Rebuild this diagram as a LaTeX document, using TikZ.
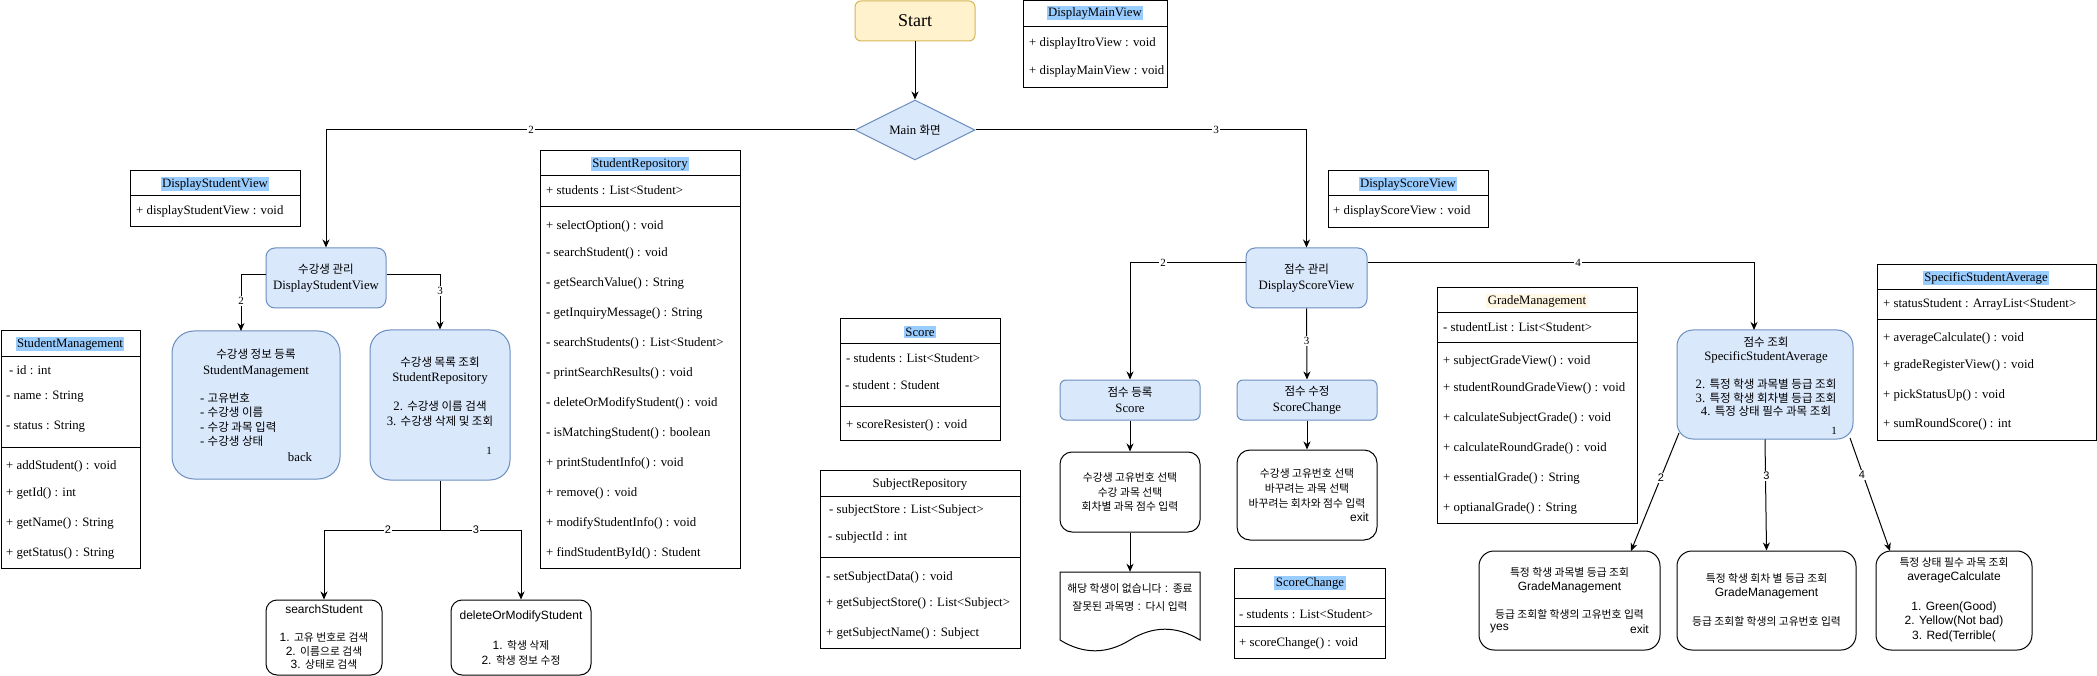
\documentclass[tikz,border=0pt]{standalone}
\usepackage{fontspec}
\setmainfont{Liberation Serif}
\newfontfamily\sansf{Liberation Sans}
\newfontfamily\krf{Noto Sans CJK KR}[Scale=0.9]
\usetikzlibrary{shapes.geometric,arrows.meta}
\definecolor{bluefill}{HTML}{DAE8FC}
\definecolor{bluestroke}{HTML}{6C8EBF}
\definecolor{yfill}{HTML}{FFF2CC}
\definecolor{ystroke}{HTML}{D6B656}
\definecolor{hlblue}{HTML}{99CCFF}
\definecolor{hlyellow}{HTML}{FFF6E3}
\newcommand\K[1]{{\krf #1}}
\newcommand\fsr{\fontsize{12.8}{15}\selectfont}
\begin{document}
\begin{tikzpicture}[x=1pt,y=-1pt,
  edge/.style={line width=1pt,-{Stealth[length=8pt,width=7pt,inset=2.5pt]}},
  plainline/.style={line width=1pt},
  elabel/.style={fill=white,inner sep=1pt,font=\fontsize{11}{12}\selectfont},
  bluebox/.style={draw=bluestroke,fill=bluefill,line width=1pt,inner sep=0pt},
  whitebox/.style={draw=black,fill=white,line width=1pt,inner sep=0pt},
  clsbox/.style={draw=black,line width=1pt,anchor=north west,inner sep=0pt},
  row/.style={anchor=west,inner sep=0pt,font=\fsr},
  hdr/.style={fill=hlblue,inner sep=1.5pt,font=\fsr},
  txt/.style={align=center,inner sep=0pt},
]
\fill[white] (0,0) rectangle (2097,676);
\useasboundingbox (0,0) rectangle (2097,676);

% ---------- class boxes ----------
% DisplayMainView
\node[clsbox,minimum width=144pt,minimum height=87pt] (dmv) at (1023,0.5) {};
\draw[plainline] (dmv.west |- 0,27) -- (dmv.east |- 0,27);
\node[hdr] (dmvh) at (1095,13) {DisplayMainView};
\node[row] (dmv1) at (1029,43) {+ displayItroView : void};
\node[row] (dmv2) at (1029,71) {+ displayMainView : void};

% DisplayStudentView
\node[clsbox,minimum width=170pt,minimum height=56pt] (dsv) at (130,170) {};
\draw[plainline] (dsv.west |- 0,196) -- (dsv.east |- 0,196);
\node[hdr] (dsvh) at (215,184) {DisplayStudentView};
\node[row] (dsv1) at (136,211) {+ displayStudentView : void};

% StudentManagement
\node[clsbox,minimum width=139pt,minimum height=238pt] (smc) at (1,330) {};
\draw[plainline] (smc.west |- 0,357) -- (smc.east |- 0,357);
\draw[plainline] (smc.west |- 0,447) -- (smc.east |- 0,447);
\node[hdr] (smch) at (70,344) {StudentManagement};
\node[row] (smc1) at (9,370) {- id : int};
\foreach \y/\t [count=\i] in {397/{- name : String},427/{- status : String},466/{+ addStudent() : void},493/{+ getId() : int},523/{+ getName() : String},553/{+ getStatus() : String}}
  \node[row] (smcr\i) at (6,\y) {\t};

% StudentRepository
\node[clsbox,minimum width=200pt,minimum height=418pt] (src) at (540,150) {};
\draw[plainline] (src.west |- 0,176) -- (src.east |- 0,176);
\draw[plainline] (src.west |- 0,207) -- (src.east |- 0,207);
\node[hdr] (srch) at (640,164) {StudentRepository};
\node[row] (src0) at (546,190) {+ students : List<Student>};
\foreach \y/\t [count=\i] in {226/{+ selectOption() : void},253/{- searchStudent() : void},283/{- getSearchValue() : String},313/{- getInquiryMessage() : String},343/{- searchStudents() : List<Student>},373/{- printSearchResults() : void},403/{- deleteOrModifyStudent() : void},433/{- isMatchingStudent() : boolean},463/{+ printStudentInfo() : void},493/{+ remove() : void},523/{+ modifyStudentInfo() : void},553/{+ findStudentById() : Student}}
  \node[row] (srcr\i) at (546,\y) {\t};

% Score
\node[clsbox,minimum width=160pt,minimum height=122pt] (scc) at (840,318) {};
\draw[plainline] (scc.west |- 0,344) -- (scc.east |- 0,344);
\draw[plainline] (scc.west |- 0,406) -- (scc.east |- 0,406);
\node[hdr] (scch) at (920,332) {Score};
\node[row] (scc1) at (846,358) {- students : List<Student>};
\node[row] (scc2) at (845,385) {- student : Student};
\node[row] (scc3) at (846,425) {+ scoreResister() : void};

% SubjectRepository
\node[clsbox,minimum width=200pt,minimum height=178pt] (sjr) at (820,470) {};
\draw[plainline] (sjr.west |- 0,496) -- (sjr.east |- 0,496);
\draw[plainline] (sjr.west |- 0,557) -- (sjr.east |- 0,557);
\node[font=\fsr,inner sep=0pt] (sjrh) at (920,484) {SubjectRepository};
\node[row] (sjr1) at (829,510) {- subjectStore : List<Subject>};
\node[row] (sjr2) at (828,537) {- subjectId : int};
\node[row] (sjr3) at (826,577) {- setSubjectData() : void};
\node[row] (sjr4) at (826,603) {+ getSubjectStore() : List<Subject>};
\node[row] (sjr5) at (826,633) {+ getSubjectName() : Subject};

% DisplayScoreView
\node[clsbox,minimum width=160pt,minimum height=57pt] (dscv) at (1328,170) {};
\draw[plainline] (dscv.west |- 0,196) -- (dscv.east |- 0,196);
\node[hdr] (dscvh) at (1408,184) {DisplayScoreView};
\node[row] (dscv1) at (1333,211) {+ displayScoreView : void};

% ScoreChange
\node[clsbox,minimum width=151pt,minimum height=90pt] (scg) at (1234,568) {};
\draw[plainline] (scg.west |- 0,598) -- (scg.east |- 0,598);
\draw[plainline] (scg.west |- 0,626) -- (scg.east |- 0,626);
\node[hdr] (scgh) at (1310,583) {ScoreChange};
\node[row] (scg1) at (1239,614) {- students : List<Student>};
\node[row] (scg2) at (1239,643) {+ scoreChange() : void};

% GradeManagement
\node[clsbox,minimum width=200pt,minimum height=236pt] (grm) at (1437,287) {};
\draw[plainline] (grm.west |- 0,313) -- (grm.east |- 0,313);
\draw[plainline] (grm.west |- 0,343) -- (grm.east |- 0,343);
\node[hdr,fill=hlyellow] (grmh) at (1537,301) {GradeManagement};
\node[row] (grm0) at (1443,327) {- studentList : List<Student>};
\foreach \y/\t [count=\i] in {361/{+ subjectGradeView() : void},388/{+ studentRoundGradeView() : void},418/{+ calculateSubjectGrade() : void},448/{+ calculateRoundGrade() : void},478/{+ essentialGrade() : String},508/{+ optianalGrade() : String}}
  \node[row] (grmr\i) at (1443,\y) {\t};

% SpecificStudentAverage
\node[clsbox,minimum width=219pt,minimum height=176pt] (ssa) at (1877,264) {};
\draw[plainline] (ssa.west |- 0,290) -- (ssa.east |- 0,290);
\draw[plainline] (ssa.west |- 0,320) -- (ssa.east |- 0,320);
\node[hdr] (ssah) at (1986,278) {SpecificStudentAverage};
\node[row] (ssa0) at (1883,304) {+ statusStudent : ArrayList<Student>};
\foreach \y/\t [count=\i] in {338/{+ averageCalculate() : void},365/{+ gradeRegisterView() : void},395/{+ pickStatusUp() : void},424/{+ sumRoundScore() : int}}
  \node[row] (ssar\i) at (1883,\y) {\t};

% ---------- flow nodes ----------
\node[draw=ystroke,fill=yfill,line width=1pt,rounded corners=6pt,minimum width=120pt,minimum height=40pt,font=\fontsize{18}{20}\selectfont] (start) at (915,21) {Start};
\node[diamond,aspect=2,draw=bluestroke,fill=bluefill,line width=1pt,minimum width=120pt,minimum height=60pt,inner sep=0pt,font=\fsr] (main) at (915,130) {Main \K{화면}};

\node[bluebox,rounded corners=9pt,minimum width=120pt,minimum height=60pt,align=center,font=\fontsize{12.8}{16}\selectfont] (ssm) at (326,278) {\K{수강생 관리}\\DisplayStudentView};

\node[bluebox,rounded corners=22pt,minimum width=168pt,minimum height=148pt] (reg) at (256,405) {};
\node[txt,font=\fontsize{12.8}{16}\selectfont] (regt) at (256,363) {\K{수강생 정보 등록}\\StudentManagement};
\node[align=left,inner sep=0pt,anchor=west,font=\fontsize{12.8}{14.4}\selectfont] (regl) at (200,419.5) {- \K{고유번호}\\- \K{수강생 이름}\\- \K{수강 과목 입력}\\- \K{수강생 상태}};
\node[inner sep=0pt,font=\fsr] (regb) at (300,457) {back};

\node[bluebox,rounded corners=20pt,minimum width=140pt,minimum height=150pt] (lst) at (440,405) {};
\node[txt,font=\fontsize{12.8}{14.6}\selectfont] (lstt) at (440,391.5) {\K{수강생 목록 조회}\\StudentRepository\\\mbox{}\\2. \K{수강생 이름 검색}\\3. \K{수강생 삭제 및 조회}};
\node[inner sep=0pt,font=\fontsize{11}{12}\selectfont] (lst1) at (489,451) {1};

\node[whitebox,rounded corners=11pt,minimum width=116pt,minimum height=75pt] (ss) at (324,637.5) {};
\node[txt,font=\sansf\fontsize{12}{13.75}\selectfont] (sst) at (324,637.5) {searchStudent\\\mbox{}\\1. \K{고유 번호로 검색}\\2. \K{이름으로 검색}\\3. \K{상태로 검색}};

\node[whitebox,rounded corners=11pt,minimum width=140pt,minimum height=75pt] (dm) at (521,637.5) {};
\node[txt,font=\sansf\fontsize{12}{15}\selectfont] (dmt) at (521,638.5) {deleteOrModifyStudent\\\mbox{}\\1. \K{학생 삭제}\\2. \K{학생 정보 수정}};

\node[bluebox,rounded corners=9pt,minimum width=121pt,minimum height=60pt,align=center,font=\fontsize{12.8}{16}\selectfont] (scm) at (1306.5,278) {\K{점수 관리}\\DisplayScoreView};
\node[bluebox,rounded corners=6pt,minimum width=140pt,minimum height=40pt,align=center,font=\fontsize{12.8}{16}\selectfont] (sreg) at (1130,400) {\K{점수 등록}\\Score};
\node[bluebox,rounded corners=6pt,minimum width=140pt,minimum height=40pt,align=center,font=\fontsize{12.8}{16}\selectfont] (smod) at (1307,400) {\K{점수 수정}\\ScoreChange};

\node[whitebox,rounded corners=12pt,minimum width=140pt,minimum height=80pt,align=center,font=\sansf\fontsize{12}{14.5}\selectfont] (b1) at (1130,492) {\K{수강생 고유번호 선택}\\\K{수강 과목 선택}\\\K{회차별 과목 점수 입력}};
\node[whitebox,rounded corners=13pt,minimum width=140pt,minimum height=90pt] (b2) at (1307,495) {};
\node[txt,font=\sansf\fontsize{12}{15}\selectfont] (b2t) at (1307,488) {\K{수강생 고유번호 선택}\\\K{바꾸려는 과목 선택}\\\K{바꾸려는 회차와 점수 입력}};
\node[inner sep=0pt,anchor=east,font=\sansf\fontsize{12}{14}\selectfont] (b2x) at (1369,517) {exit};

% document shape
\node[inner sep=0pt,minimum width=140pt,minimum height=80pt] (doc) at (1130,612) {};
\draw[line width=1pt,fill=white] (1060,572) -- (1200,572) -- (1200,640)
  .. controls (1176.7,625.6) and (1153.3,625.6) .. (1130,640)
  .. controls (1106.7,654.4) and (1083.3,654.4) .. (1060,640) -- cycle;
\node[txt,font=\sansf\fontsize{12}{18}\selectfont] (doct) at (1130,597.5) {\K{해당 학생이 없습니다} : \K{종료}\\\K{잘못된 과목명} : \K{다시 입력}};

\node[bluebox,rounded corners=16pt,minimum width=176pt,minimum height=109pt] (inq) at (1765,384.5) {};
\node[txt,font=\fontsize{12.8}{13.8}\selectfont] (inqt) at (1766,377) {\K{점수 조회}\\SpecificStudentAverage\\\mbox{}\\2. \K{특정 학생 과목별 등급 조회}\\3. \K{특정 학생 회차별  등급 조회}\\4. \K{특정 상태 필수 과목 조회}};
\node[inner sep=0pt,font=\fontsize{11}{12}\selectfont] (inq1) at (1834,431) {1};

\node[whitebox,rounded corners=15pt,minimum width=181pt,minimum height=99pt] (ba) at (1569.5,600.5) {};
\node[txt,font=\sansf\fontsize{12}{14}\selectfont] (bat) at (1569.5,593) {\K{특정 학생 과목별 등급 조회}\\GradeManagement\\\mbox{}\\\K{등급 조회할 학생의 고유번호 입력}};
\node[inner sep=0pt,anchor=west,font=\sansf\fontsize{12}{14}\selectfont] (bay) at (1490,629) {yes};
\node[inner sep=0pt,anchor=east,font=\sansf\fontsize{12}{14}\selectfont] (bax) at (1649,629) {exit};

\node[whitebox,rounded corners=15pt,minimum width=179pt,minimum height=99pt] (bb) at (1766.5,600.5) {};
\node[txt,font=\sansf\fontsize{12}{14.3}\selectfont] (bbt) at (1766.5,599.5) {\K{특정 학생 회차 별 등급 조회}\\GradeManagement\\\mbox{}\\\K{등급 조회할 학생의 고유번호 입력}};

\node[whitebox,rounded corners=15pt,minimum width=156pt,minimum height=99pt] (bc) at (1954,600.5) {};
\node[txt,font=\sansf\fontsize{12}{14.6}\selectfont] (bct) at (1954,599.5) {\K{특정 상태 필수 과목 조회}\\averageCalculate\\\mbox{}\\1. Green(Good)\\2. Yellow(Not bad)\\3. Red(Terrible(};

% ---------- connectors ----------
\coordinate (regin) at (241,331);
\coordinate (j1) at (440,530);
\coordinate (inqin) at (1754,330);
\coordinate (aout) at (1679,433);
\coordinate (ain) at (1631,551);
\coordinate (cout) at (1850,438);
\coordinate (cin) at (1890,551);

\draw[edge] (start) -- (main);
\draw[edge] (main.west) -| (ssm.north);
\draw[edge] (main.east) -| (scm.north);
\draw[edge] ([yshift=3pt]ssm.west) -| (regin);
\draw[edge] ([yshift=3pt]ssm.east) -| (lst.north);
\draw[plainline] (lst.south) -- (j1);
\draw[edge] (j1) -| (ss.north);
\draw[edge] (j1) -| (dm.north);
\draw[edge] ([yshift=-15pt]scm.north west) -| (sreg.north);
\draw[edge] (scm.south) -- (smod.north);
\draw[edge] ([yshift=-15pt]scm.north east) -| (inqin);
\draw[edge] (sreg.south) -- (b1.north);
\draw[edge] (b1.south) -- (doc.north);
\draw[edge] (smod.south) -- (b2.north);
\draw[edge] (aout) -- (ain);
\draw[edge] (inq.south) -- (bb.north);
\draw[edge] (cout) -- (cin);

% ---------- connector labels ----------
\node[elabel] (l1) at (531,130) {2};
\node[elabel] (l2) at (1216,130) {3};
\node[elabel] (l3) at (241,301) {2};
\node[elabel] (l4) at (440,291) {3};
\node[elabel,font=\sansf\fontsize{11}{12}\selectfont] (l5) at (388,530) {2};
\node[elabel,font=\sansf\fontsize{11}{12}\selectfont] (l6) at (476,530) {3};
\node[elabel] (l7) at (1163,263) {2};
\node[elabel] (l8) at (1306.5,341) {3};
\node[elabel] (l9) at (1578,263) {4};
\node[elabel,font=\sansf\fontsize{11}{12}\selectfont] (l10) at (1661,478) {2};
\node[elabel,font=\sansf\fontsize{11}{12}\selectfont] (l11) at (1766.5,476) {3};
\node[elabel,font=\sansf\fontsize{11}{12}\selectfont] (l12) at (1862,475) {4};
\end{tikzpicture}
\end{document}
